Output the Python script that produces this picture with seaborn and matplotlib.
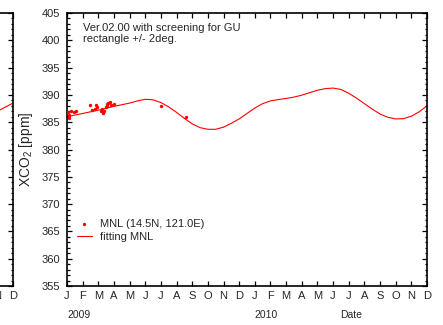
import matplotlib
matplotlib.use('Agg')
import matplotlib.pyplot as plt
import matplotlib.transforms as mtransforms
from matplotlib.ticker import MultipleLocator, FixedLocator
import seaborn as sns
import pandas as pd

# months counted from Jan 2009 (0) to Dec 2010 (23)
month_letters = ['J', 'F', 'M', 'A', 'M', 'J', 'J', 'A', 'S', 'O', 'N', 'D'] * 2
year_labels = ['2009', '2010']
year_pos = [0, 12]

# observed MNL points (month, XCO2)
obs_month = [0.06, 0.10, 0.13, 0.24, 0.45, 0.58, 1.47, 1.62, 1.77, 1.83, 1.94,
             2.19, 2.26, 2.32, 2.36, 2.47, 2.54, 2.58, 2.64, 2.73, 2.79, 3.00,
             6.00, 7.60]
obs_xco2 = [386.9, 385.7, 386.4, 387.0, 386.9, 387.0, 388.1, 387.2, 387.4, 388.1, 387.7,
            387.0, 387.4, 386.7, 387.0, 387.7, 388.0, 388.3, 388.6, 388.7, 388.1, 388.3,
            388.0, 386.0]

# fitting curve
fit_month = [0.0, 0.5, 1.0, 1.5, 2.0, 2.5, 3.0, 3.5, 4.0, 4.5, 5.0, 5.5, 6.0, 6.5,
             7.0, 7.5, 8.0, 8.5, 9.0, 9.5, 10.0, 10.5, 11.0, 11.5, 12.0, 12.5, 13.0,
             13.5, 14.0, 14.5, 15.0, 15.5, 16.0, 16.5, 17.0, 17.5, 18.0, 18.5, 19.0,
             19.5, 20.0, 20.5, 21.0, 21.5, 22.0, 22.5, 23.0]
fit_xco2 = [386.0, 386.3, 386.6, 386.9, 387.2, 387.55, 387.9, 388.2, 388.5, 388.9,
            389.2, 389.1, 388.6, 387.8, 386.8, 385.7, 384.7, 384.0, 383.7, 383.7,
            384.1, 384.8, 385.6, 386.6, 387.6, 388.4, 388.9, 389.15, 389.35, 389.6,
            389.95, 390.4, 390.85, 391.15, 391.25, 391.0, 390.3, 389.4, 388.4, 387.4,
            386.5, 385.9, 385.6, 385.65, 386.1, 386.9, 388.0]

# tail of the neighbouring (previous) panel
prev_month = [21.0, 22.0, 23.0]
prev_xco2 = [386.2, 387.0, 388.5]

sns.set_style('ticks')
plt.rcParams['font.family'] = ['Liberation Sans', 'DejaVu Sans']
plt.rcParams['mathtext.default'] = 'regular'

W, H = 443, 325
fig = plt.figure(figsize=(W / 100, H / 100), dpi=100)
ax = fig.add_axes([67 / W, 39 / H, 360 / W, 273 / H])
ax0 = fig.add_axes([-347 / W, 39 / H, 360 / W, 273 / H])

obs = pd.DataFrame({'month': obs_month, 'xco2': obs_xco2})
fit = pd.DataFrame({'month': fit_month, 'xco2': fit_xco2})

sns.scatterplot(data=obs, x='month', y='xco2', ax=ax, color='#ff0000', s=6,
                linewidth=0, label='MNL (14.5N, 121.0E)', zorder=3)
sns.lineplot(data=fit, x='month', y='xco2', ax=ax, color='#ff0000', lw=0.8,
             label='fitting MNL', sort=False)
ax0.plot(prev_month, prev_xco2, color='#ff0000', lw=0.8)

for a in (ax, ax0):
    a.set_xlim(0, 23)
    a.set_ylim(355, 405)
    a.xaxis.set_major_locator(FixedLocator(range(24)))
    a.yaxis.set_major_locator(MultipleLocator(5))
    a.yaxis.set_minor_locator(MultipleLocator(1))
    a.tick_params(which='both', direction='in', top=True, right=True, color='black', width=0.9)
    a.tick_params(which='major', length=3.5)
    a.tick_params(which='minor', length=1.8)
    a.tick_params(axis='x', labelsize=8, pad=3.6)
    a.tick_params(axis='y', labelsize=8, pad=5)
    for sp in a.spines.values():
        sp.set_visible(True)
        sp.set_color('black')
        sp.set_linewidth(1.2)
    a.set_xlabel('')
    a.set_ylabel('')

ax.set_xticklabels(month_letters)
# only the last two month letters of the neighbouring panel reach into the picture
ax0.set_xticklabels([''] * 22 + month_letters[-2:])
ax0.set_yticklabels([])

ax.set_ylabel('XCO$_2$ [ppm]', fontsize=10)
ax.yaxis.set_label_coords(-0.089, 0.5)

trans = mtransforms.blended_transform_factory(ax.transData, ax.transAxes)
for lab, pos in zip(year_labels, year_pos):
    ax.text(pos, -0.1044, lab, transform=trans, fontsize=7.5, ha='left', va='center')
ax.text(17.44, -0.1044, 'Date', transform=trans, fontsize=7.5, ha='left', va='center')

ax.text(0.045, 0.962, 'Ver.02.00 with screening for GU\nrectangle +/- 2deg.',
        transform=ax.transAxes, fontsize=8, ha='left', va='top', linespacing=1.05)

ax.legend(loc='upper left', bbox_to_anchor=(0.028, 0.245), frameon=False, fontsize=8,
          handlelength=1.3, handletextpad=0.75, labelspacing=0.25, borderpad=0,
          borderaxespad=0, scatterpoints=1)

fig.savefig('out.png', dpi=100)
